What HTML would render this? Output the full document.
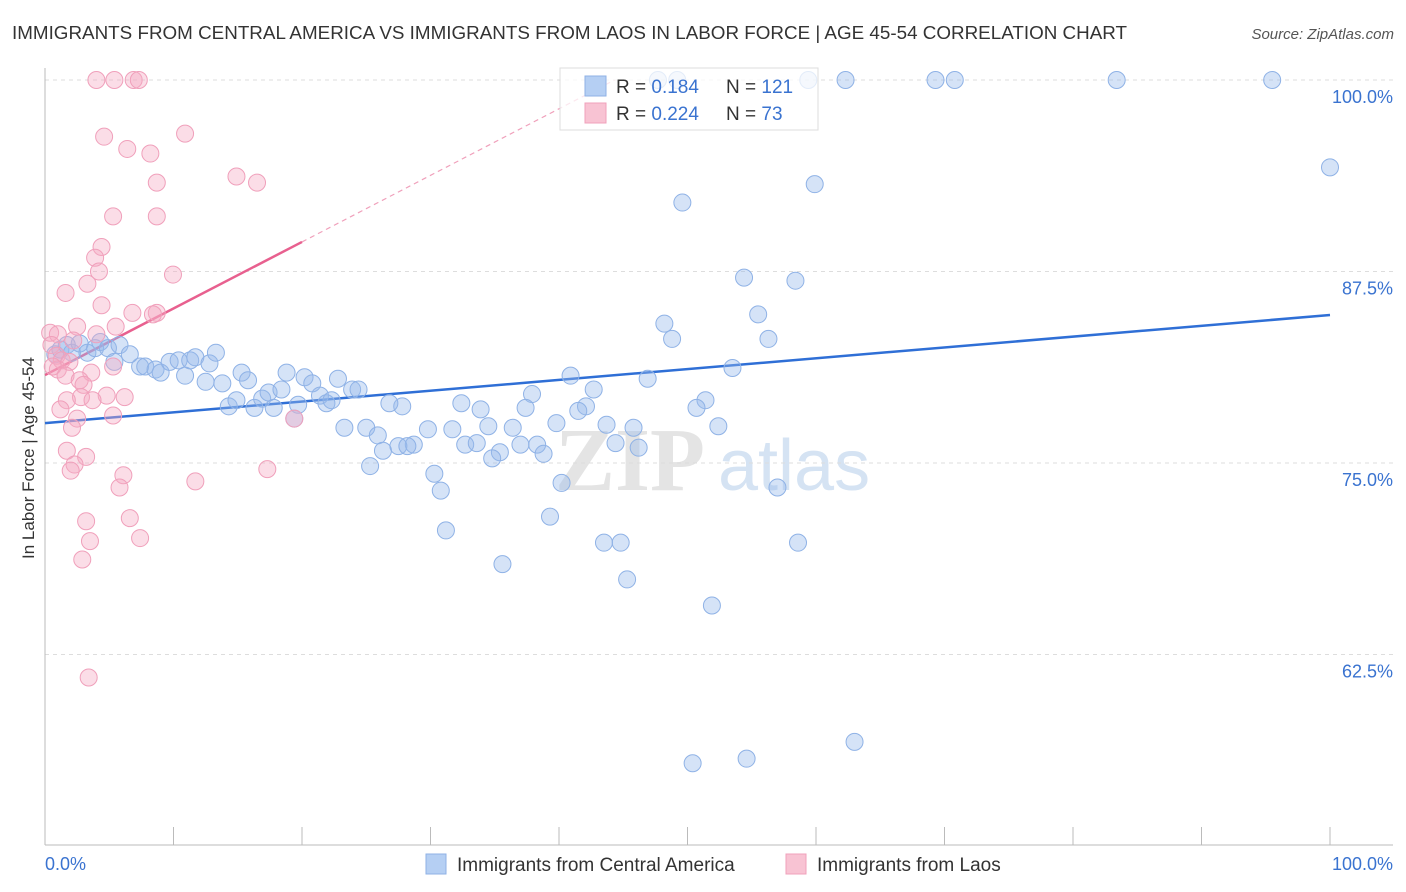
<!DOCTYPE html>
<html><head><meta charset="utf-8"><style>
body{margin:0;background:#fff;font-family:"Liberation Sans",sans-serif;}
#wrap{position:relative;width:1406px;height:892px;overflow:hidden;}
</style></head><body>
<div id="wrap">
<svg id="svg" width="1406" height="892" xmlns="http://www.w3.org/2000/svg">
<text x="12" y="39" font-size="18.5" fill="#333" textLength="1115" lengthAdjust="spacingAndGlyphs">IMMIGRANTS FROM CENTRAL AMERICA VS IMMIGRANTS FROM LAOS IN LABOR FORCE | AGE 45-54 CORRELATION CHART</text>
<text x="1394" y="39" font-size="15" fill="#555" text-anchor="end" font-style="italic">Source: ZipAtlas.com</text>
<text x="34" y="458" font-size="17" fill="#333" text-anchor="middle" transform="rotate(-90 34 458)">In Labor Force | Age 45-54</text>
<g><text x="555" y="490" font-size="90" fill="#e4e4e4" font-family="Liberation Serif,serif" font-weight="bold">ZIP</text><text x="718" y="490" font-size="72" fill="#d5e3f3">atlas</text></g>
<g id="grid"></g><g id="axes"></g><g id="lines"></g><g id="pts"></g>
<g>
<rect x="560" y="68" width="258" height="62" fill="#fff" fill-opacity="0.75" stroke="#ddd"/>
<rect x="585" y="76" width="21" height="20" fill="#b5cff3" stroke="#8fb2e6"/>
<rect x="585" y="103" width="21" height="20" fill="#f8c3d3" stroke="#f0a0bb"/>
<text x="616" y="93" font-size="19" fill="#333">R = <tspan fill="#3a73d0">0.184</tspan></text>
<text x="726" y="93" font-size="19" fill="#333">N = <tspan fill="#3a73d0">121</tspan></text>
<text x="616" y="120" font-size="19" fill="#333">R = <tspan fill="#3a73d0">0.224</tspan></text>
<text x="726" y="120" font-size="19" fill="#333">N = <tspan fill="#3a73d0"> 73</tspan></text>
</g>
<g>
<rect x="426" y="854" width="20" height="20" fill="#b5cff3" stroke="#8fb2e6"/>
<text x="457" y="871" font-size="19" fill="#333">Immigrants from Central America</text>
<rect x="786" y="854" width="20" height="20" fill="#f8c3d3" stroke="#f0a0bb"/>
<text x="817" y="871" font-size="19" fill="#333">Immigrants from Laos</text>
</g>
<text x="45" y="870" font-size="18" fill="#3a73d0">0.0%</text>
<text x="1393" y="870" font-size="18" fill="#3a73d0" text-anchor="end">100.0%</text>
</svg>
</div>
<script>
const yTicks=[100,87.5,75,62.5];
const yTickLabels=["100.0%","87.5%","75.0%","62.5%"];
const xTicks=[0,10,20,30,40,50,60,70,80,90,100];
const blueX=[47.7,49.2,59.4,62.3,69.3,70.8,83.4,95.5,100,59.9,49.6,54.4,58.4,55.5,48.2,48.8,56.3,53.5,46.9,40.9,42.7,37.9,51.4,50.7,42.1,41.5,37.4,33.9,32.4,27.8,26.8,39.8,43.7,45.8,52.4,36.4,34.5,31.7,29.8,25.0,23.3,25.9,44.4,46.2,37.0,38.3,32.7,33.6,28.7,27.5,28.2,26.3,35.4,38.8,34.8,25.3,30.3,40.2,30.8,57.0,39.3,31.2,43.5,44.8,58.6,35.6,45.3,51.9,63.0,54.6,50.4,0.8,1.2,1.7,2.1,2.7,3.3,3.9,4.3,4.9,5.4,5.8,6.6,7.4,7.8,8.6,9.0,9.7,10.4,10.9,11.3,11.7,12.8,13.3,12.5,13.8,14.3,14.9,15.3,15.8,16.3,16.9,17.4,17.8,18.4,18.8,19.7,20.2,20.8,21.4,21.9,22.3,22.8,23.9,24.4,19.4];
const blueY=[100,100,100,100,100,100,100,100,94.3,93.2,92.0,87.1,86.9,84.7,84.1,83.1,83.1,81.2,80.5,80.7,79.8,79.5,79.1,78.6,78.7,78.4,78.6,78.5,78.9,78.7,78.9,77.6,77.5,77.3,77.4,77.3,77.4,77.2,77.2,77.3,77.3,76.8,76.3,76.0,76.2,76.2,76.2,76.3,76.2,76.1,76.1,75.8,75.7,75.6,75.3,74.8,74.3,73.7,73.2,73.4,71.5,70.6,69.8,69.8,69.8,68.4,67.4,65.7,56.8,55.7,55.4,82.1,82.4,82.7,82.2,82.8,82.2,82.5,82.9,82.5,81.6,82.7,82.1,81.3,81.3,81.1,80.9,81.6,81.7,80.7,81.7,81.9,81.5,82.2,80.3,80.2,78.7,79.1,80.9,80.4,78.6,79.2,79.6,78.6,79.8,80.9,78.8,80.6,80.2,79.4,78.9,79.1,80.5,79.8,79.8,77.9];
const pinkX=[4.0,5.4,6.9,7.3,10.9,4.6,6.4,8.2,14.9,16.5,8.7,5.3,8.7,4.4,3.9,4.2,9.96,3.3,1.6,4.4,8.7,6.8,8.4,5.5,2.5,4.0,0.4,1.0,2.2,0.5,0.9,1.3,1.9,1.0,0.6,1.6,3.6,2.7,3.0,5.3,4.8,6.2,2.8,3.7,1.7,1.2,5.3,2.5,2.1,1.7,3.2,2.3,2.0,6.1,5.8,11.7,17.3,19.4,3.2,6.6,3.5,7.4,2.9,3.4];
const pinkY=[100,100,100,100,96.5,96.3,95.5,95.2,93.7,93.3,93.3,91.1,91.1,89.1,88.4,87.5,87.3,86.7,86.1,85.3,84.8,84.8,84.7,83.9,83.9,83.4,83.5,83.4,83.0,82.7,82.0,81.7,81.6,81.1,81.3,80.7,80.9,80.4,80.1,81.3,79.4,79.3,79.3,79.1,79.1,78.5,78.1,77.9,77.3,75.8,75.4,74.9,74.5,74.2,73.4,73.8,74.6,77.9,71.2,71.4,69.9,70.1,68.7,61.0];
const blueTrend=[[0,77.6],[100,84.66]];
const pinkTrend=[[0,80.74],[20,89.43]];
const X=v=>45+v*12.85, Y=v=>80+(100-v)*15.32;
const NS="http://www.w3.org/2000/svg";
function mk(tag,attrs,parent){const e=document.createElementNS(NS,tag);for(const k in attrs)e.setAttribute(k,attrs[k]);document.getElementById(parent).appendChild(e);return e;}
yTicks.forEach((t,i)=>{
 const g=mk('line',{x1:45,x2:1393,y1:Y(t),y2:Y(t),stroke:'#ddd','stroke-dasharray':'4,4'},'grid');
 
 
 const l=mk('text',{x:1393,y:Y(t)+23,'font-size':18,fill:'#3a73d0','text-anchor':'end'},'grid');
 l.textContent=yTickLabels[i];
 
 
});
const ya=mk('line',{x1:45,x2:45,y1:68,y2:845,stroke:'#bbb'},'axes');


const xa=mk('line',{x1:45,x2:1393,y1:845,y2:845,stroke:'#bbb'},'axes');


xTicks.forEach(t=>{
 const k=mk('line',{x1:X(t),x2:X(t),y1:827,y2:845,stroke:'#bbb'},'axes');
 
 
});
function pts(xs,ys,fill,stroke,name){
 xs.forEach((x,i)=>{
  const c=mk('circle',{cx:X(x),cy:Y(ys[i]),r:8.5,fill:fill,stroke:stroke,'stroke-width':1},'pts');
  
  
 });
}
pts(blueX,blueY,'rgba(150,185,235,0.4)','#8fb2e6','point-central-america');
pts(pinkX,pinkY,'rgba(245,170,195,0.4)','#f0a0bb','point-laos');
const bl=mk('line',{x1:X(blueTrend[0][0]),y1:Y(blueTrend[0][1]),x2:X(blueTrend[1][0]),y2:Y(blueTrend[1][1]),stroke:'#2f6fd6','stroke-width':2.5},'lines');


const slope=(pinkTrend[1][1]-pinkTrend[0][1])/(pinkTrend[1][0]-pinkTrend[0][0]);
const pl=mk('line',{x1:X(pinkTrend[0][0]),y1:Y(pinkTrend[0][1]),x2:X(pinkTrend[1][0]),y2:Y(pinkTrend[1][1]),stroke:'#e8608f','stroke-width':2.5},'lines');


const xe=pinkTrend[1][0]+(100-pinkTrend[1][1])/slope;
const pd=mk('line',{x1:X(pinkTrend[1][0]),y1:Y(pinkTrend[1][1]),x2:X(xe),y2:Y(100),stroke:'#f0a0bb','stroke-width':1.2,'stroke-dasharray':'5,4'},'lines');


</script>
</body></html>
